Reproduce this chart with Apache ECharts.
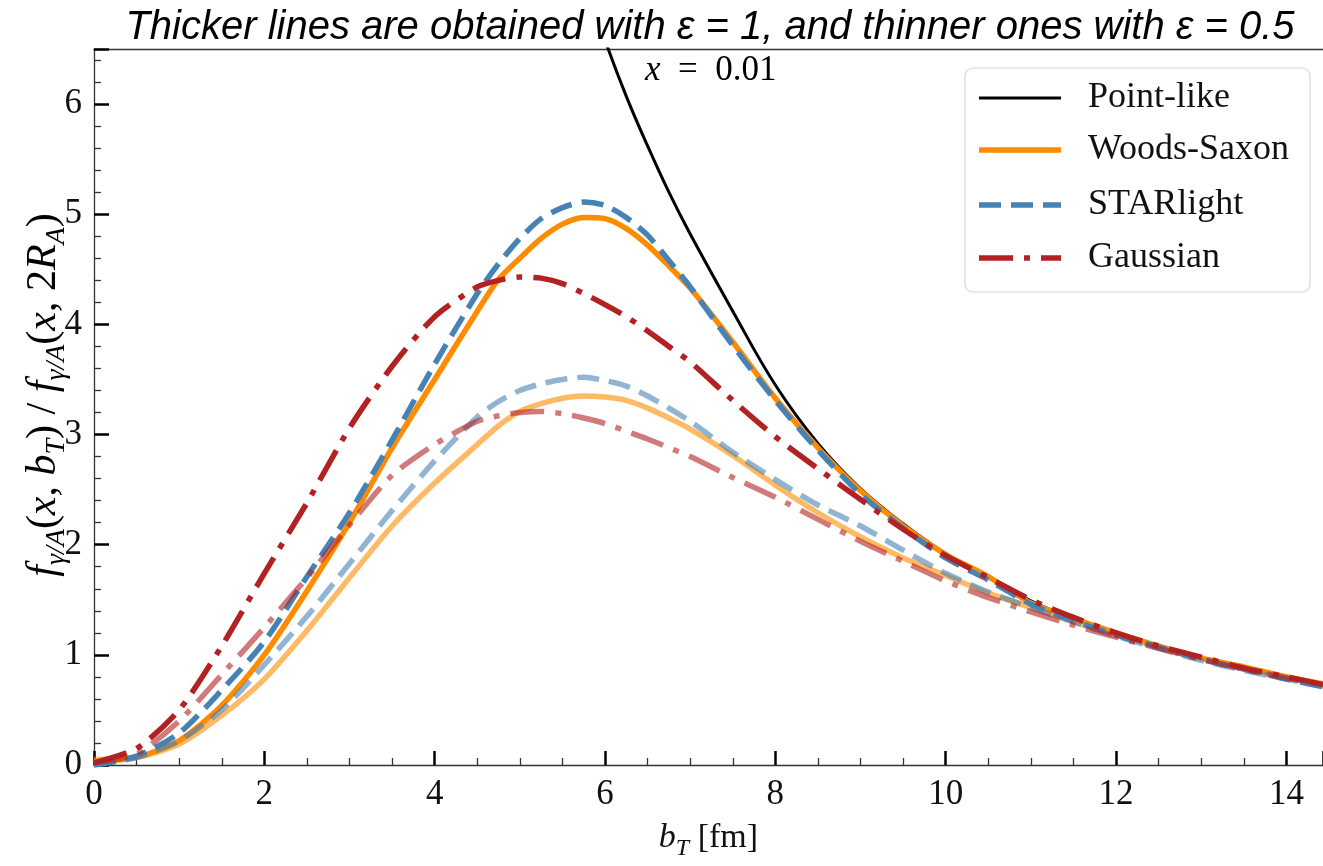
<!DOCTYPE html>
<html>
<head>
<meta charset="utf-8">
<script src="https://cdn.jsdelivr.net/npm/echarts@6/dist/echarts.min.js"></script>
<style>
  html, body { margin: 0; padding: 0; background: #fff; }
  #chart { width: 1323px; height: 866px; }
</style>
</head>
<body>
<div id="chart"></div>
<script>
// Impact parameter grid b_T [fm] (finer around the maxima)
const bT = [0, 0.5, 1.0, 1.5, 2.0, 2.5, 3.0, 3.5, 4.0, 4.5, 4.75, 5.0, 5.25, 5.5, 5.75, 6.0, 6.25, 6.5, 6.75, 7.0,
            7.5, 8.0, 8.5, 9.0, 9.5, 10.0, 10.5, 11.0, 11.5, 12.0, 12.5, 13.0, 13.5, 14.0, 14.5];

// Ratio f(x,b_T)/f(x,2R_A) at x = 0.01
const pointLike = [null, null, null, null, null, null, null, null, null, null, null, null, null,
                   7.78, 7.15, 6.58, 6.07, 5.62, 5.20, 4.82,
                   4.12, 3.45, 2.92, 2.51, 2.19, 1.92, 1.71, 1.49, 1.33, 1.20, 1.08, 0.97, 0.89, 0.80, 0.72];

// epsilon = 1
const woodsSaxon1 = [0.03, 0.07, 0.22, 0.54, 1.00, 1.58, 2.20, 2.88, 3.50, 4.12, 4.41, 4.60, 4.78, 4.91, 4.97, 4.96, 4.87, 4.72, 4.53, 4.33,
                     3.84, 3.33, 2.88, 2.49, 2.17, 1.91, 1.71, 1.47, 1.33, 1.20, 1.08, 0.97, 0.89, 0.80, 0.72];
const starlight1  = [0.00, 0.08, 0.29, 0.68, 1.12, 1.71, 2.29, 2.95, 3.64, 4.28, 4.55, 4.78, 4.96, 5.06, 5.11, 5.08, 4.97, 4.81, 4.58, 4.34,
                     3.81, 3.31, 2.86, 2.46, 2.15, 1.88, 1.68, 1.46, 1.31, 1.18, 1.07, 0.96, 0.87, 0.78, 0.70];
const gaussian1   = [0.02, 0.15, 0.50, 1.08, 1.74, 2.38, 3.06, 3.62, 4.07, 4.34, 4.40, 4.43, 4.42, 4.37, 4.28, 4.18, 4.07, 3.94, 3.80, 3.66,
                     3.31, 2.98, 2.69, 2.41, 2.14, 1.90, 1.70, 1.50, 1.34, 1.20, 1.08, 0.98, 0.88, 0.80, 0.72];

// epsilon = 0.5
const woodsSaxon05 = [0.05, 0.07, 0.19, 0.45, 0.78, 1.22, 1.70, 2.17, 2.56, 2.91, 3.08, 3.21, 3.28, 3.33, 3.35, 3.34, 3.31, 3.24, 3.15, 3.05,
                      2.81, 2.54, 2.29, 2.07, 1.88, 1.72, 1.56, 1.43, 1.30, 1.18, 1.07, 0.97, 0.88, 0.80, 0.73];
const starlight05  = [0.00, 0.07, 0.22, 0.50, 0.91, 1.35, 1.83, 2.31, 2.76, 3.16, 3.30, 3.40, 3.46, 3.50, 3.52, 3.49, 3.44, 3.35, 3.24, 3.12,
                      2.84, 2.59, 2.36, 2.17, 1.95, 1.74, 1.57, 1.43, 1.30, 1.17, 1.06, 0.95, 0.86, 0.78, 0.71];
const gaussian05   = [0.02, 0.10, 0.40, 0.82, 1.25, 1.70, 2.18, 2.63, 2.91, 3.12, 3.17, 3.20, 3.21, 3.19, 3.15, 3.10, 3.03, 2.96, 2.88, 2.80,
                      2.61, 2.43, 2.23, 2.03, 1.85, 1.67, 1.52, 1.39, 1.27, 1.16, 1.06, 0.96, 0.87, 0.79, 0.72];

const legendNames = ['Point-like', 'Woods-Saxon', 'STARlight', 'Gaussian'];
const titleText = 'Thicker lines are obtained with \u03b5 = 1, and thinner ones with \u03b5 = 0.5';

const ORANGE = '#FF8C00', BLUE = '#4682B4', RED = '#B22222';
const SERIF = '"Liberation Serif", "DejaVu Serif", serif';
const DASHED = [22, 10];
const DASHDOT = [34, 11, 6, 11];

// line styles shared by the curves and the legend samples
const styles = {
  'Point-like':  { color: '#000', width: 3, dash: 'solid' },
  'Woods-Saxon': { color: ORANGE, width: 5.5, dash: 'solid' },
  'STARlight':   { color: BLUE, width: 5.5, dash: DASHED },
  'Gaussian':    { color: RED, width: 5.5, dash: DASHDOT }
};

function pairs(ys) {
  const out = [];
  ys.forEach((y, i) => { if (y !== null) out.push([bT[i], y]); });
  return out;
}

function lineSeries(name, ys, key, opacity, smooth) {
  const st = styles[key];
  return {
    name: name,
    type: 'line',
    data: pairs(ys),
    symbol: 'none',
    showSymbol: false,
    smooth: smooth,
    clip: true,
    silent: true,
    lineStyle: { color: st.color, width: st.width, type: st.dash, opacity: opacity, cap: 'butt', join: 'round' },
    emphasis: { disabled: true }
  };
}

const xRich = {
  n: { fontFamily: SERIF, fontSize: 34, lineHeight: 46, verticalAlign: 'middle', color: '#111' },
  i: { fontFamily: SERIF, fontSize: 34, lineHeight: 46, verticalAlign: 'middle', fontStyle: 'italic', color: '#111' },
  s: { fontFamily: SERIF, fontSize: 24, lineHeight: 24, verticalAlign: 'bottom', fontStyle: 'italic', color: '#111' }
};
const yRich = {
  n: { fontFamily: SERIF, fontSize: 42, lineHeight: 54, verticalAlign: 'middle', color: '#111' },
  i: { fontFamily: SERIF, fontSize: 42, lineHeight: 54, verticalAlign: 'middle', fontStyle: 'italic', color: '#111' },
  s: { fontFamily: SERIF, fontSize: 28, lineHeight: 28, verticalAlign: 'bottom', fontStyle: 'italic', color: '#111' }
};
const annRich = {
  n: { fontFamily: SERIF, fontSize: 35, color: '#111' },
  i: { fontFamily: SERIF, fontSize: 35, fontStyle: 'italic', color: '#111' }
};

// legend box built from plain shapes so that dash patterns show exactly
const legendLeft = 965, legendTop = 68, legendW = 345, legendH = 224;
const rowY = [98, 150, 205, 258];
const legendGraphics = [{
  type: 'rect',
  shape: { x: legendLeft, y: legendTop, width: legendW, height: legendH, r: 8 },
  style: { fill: 'rgba(255,255,255,0.85)', stroke: '#d6d6d6', lineWidth: 1.2 },
  z: 100, silent: true
}];
legendNames.forEach((nm, k) => {
  const st = styles[nm];
  legendGraphics.push({
    type: 'line',
    shape: { x1: legendLeft + 14, y1: rowY[k], x2: legendLeft + 96, y2: rowY[k] },
    style: { stroke: st.color, lineWidth: st.width, lineDash: st.dash === 'solid' ? null : st.dash, lineCap: 'butt' },
    z: 101, silent: true
  });
  legendGraphics.push({
    type: 'text',
    x: legendLeft + 123, y: rowY[k],
    style: { text: nm, fontFamily: SERIF, fontSize: 36, fill: '#111', verticalAlign: 'middle', align: 'left' },
    z: 101, silent: true
  });
});

const chart = echarts.init(document.getElementById('chart'), null, { renderer: 'canvas' });

chart.setOption({
  animation: false,
  backgroundColor: '#fff',
  title: {
    text: titleText,
    left: 705,
    textAlign: 'center',
    top: 3,
    textStyle: {
      fontFamily: '"Liberation Sans", Arial, sans-serif',
      fontStyle: 'italic',
      fontWeight: 'normal',
      fontSize: 40,
      color: '#000'
    }
  },
  grid: { left: 94, right: 0, top: 49, bottom: 92, containLabel: false },
  xAxis: [{
    type: 'value',
    min: 0,
    max: 14.43,
    interval: 2,
    position: 'bottom',
    name: '{i|b}{s|T}{n| [fm]}',
    nameLocation: 'middle',
    nameGap: 50,
    nameTextStyle: { rich: xRich },
    axisLine: { show: true, lineStyle: { color: '#333', width: 1.3 } },
    axisTick: { show: true, inside: true, length: 14, lineStyle: { color: '#000', width: 2.5 } },
    minorTick: { show: true, splitNumber: 4, length: 7, lineStyle: { color: '#333', width: 1.3 } },
    splitLine: { show: false },
    axisLabel: {
      showMaxLabel: false,
      margin: 12,
      fontFamily: SERIF, fontSize: 35, color: '#111',
      formatter: v => (Math.abs(v - Math.round(v)) < 1e-9 ? String(v) : '')
    }
  }, {
    type: 'value',
    min: 0,
    max: 14.43,
    position: 'top',
    axisLine: { show: true, lineStyle: { color: '#333', width: 1.3 } },
    axisTick: { show: false },
    axisLabel: { show: false },
    splitLine: { show: false }
  }],
  yAxis: {
    type: 'value',
    min: 0,
    max: 6.5,
    interval: 1,
    axisLine: { show: true, lineStyle: { color: '#333', width: 1.3 } },
    axisTick: { show: true, inside: true, length: 15, lineStyle: { color: '#000', width: 2.5 } },
    minorTick: { show: true, splitNumber: 5, length: 7, lineStyle: { color: '#333', width: 1.3 } },
    splitLine: { show: false },
    axisLabel: {
      showMaxLabel: false,
      margin: 12,
      fontFamily: SERIF, fontSize: 35, color: '#111',
      formatter: v => (Math.abs(v - Math.round(v)) < 1e-9 ? String(v) : '')
    }
  },
  graphic: [{
    // y-axis title, rotated
    type: 'text',
    x: 44,
    y: 395,
    rotation: Math.PI / 2,
    silent: true,
    style: {
      text: '{i|f}{s|\u03b3/A}{n|(}{i|x}{n|, }{i|b}{s|T}{n|) / }{i|f}{s|\u03b3/A}{n|(}{i|x}{n|, 2}{i|R}{s|A}{n|)}',
      rich: yRich,
      align: 'center',
      verticalAlign: 'middle'
    }
  }, {
    type: 'text',
    x: 645,
    y: 88,
    silent: true,
    style: {
      text: '{i|x}{n|\u2002=\u20020.01}',
      rich: annRich,
      verticalAlign: 'bottom'
    }
  }].concat(legendGraphics),
  series: [
    lineSeries('Point-like', pointLike, 'Point-like', 1, 0.4),
    lineSeries('Woods-Saxon', woodsSaxon1, 'Woods-Saxon', 1, 0.25),
    lineSeries('Woods-Saxon \u03b5 = 0.5', woodsSaxon05, 'Woods-Saxon', 0.6, 0.25),
    lineSeries('STARlight', starlight1, 'STARlight', 1, 0.25),
    lineSeries('STARlight \u03b5 = 0.5', starlight05, 'STARlight', 0.6, 0.25),
    lineSeries('Gaussian', gaussian1, 'Gaussian', 1, 0.25),
    lineSeries('Gaussian \u03b5 = 0.5', gaussian05, 'Gaussian', 0.6, 0.25)
  ]
});
</script>
</body>
</html>
